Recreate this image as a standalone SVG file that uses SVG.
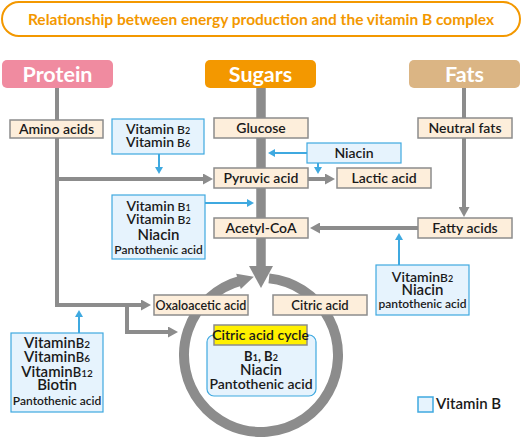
<svg xmlns="http://www.w3.org/2000/svg" width="522" height="439" viewBox="0 0 522 439">
<style>
.box{fill:#fdeedb;stroke:#8c8c8c;stroke-width:1.5}
.vit{fill:#e6f3fd;stroke:#3fa9e0;stroke-width:1.2}
.hd{font-family:Lato,"Noto Sans",sans-serif;font-size:21.5px;font-weight:bold;fill:#fff;text-anchor:middle}
.t{font-family:Lato,"Noto Sans",sans-serif;font-size:14px;font-weight:600;fill:#1a1a1a;text-anchor:middle}
.s{font-size:12px}
.b12{font-size:12px}
.d{font-size:9px}
.g{stroke:#8c8c8c;stroke-width:4;fill:none}
.bl{stroke:#3fa9e0;stroke-width:2;fill:none}
</style>
<defs>
<marker id="ga" markerUnits="userSpaceOnUse" markerWidth="10" markerHeight="11" refX="1" refY="5.5" orient="auto"><path d="M0,0L10,5.5L0,11z" fill="#8c8c8c"/></marker>
<marker id="ba" markerUnits="userSpaceOnUse" markerWidth="7" markerHeight="8" refX="1" refY="4" orient="auto"><path d="M0,0L7,4L0,8z" fill="#3fa9e0"/></marker>
</defs>

<g id="title">
<rect x="2" y="2" width="518" height="34" rx="17" fill="#fff" stroke="#f39800" stroke-width="2"/>
<text x="261" y="25" class="t" style="font-weight:bold;font-size:15.5px;fill:#f39800">Relationship between energy production and the vitamin B complex</text>
</g>

<g id="connectors">
<path class="g" d="M57,88V305H142" marker-end="url(#ga)"/>
<path class="g" d="M57,179H204" marker-end="url(#ga)"/>
<path class="g" d="M127,305V332H169" marker-end="url(#ga)"/>
<path class="g" d="M464,88V208" marker-end="url(#ga)"/>
<path class="g" d="M308,179H326" marker-end="url(#ga)"/>
<path class="g" d="M418,228H319" marker-end="url(#ga)"/>
<path d="M261,88V268" stroke="#8c8c8c" stroke-width="9.5" fill="none"/>
<polygon points="249,266 273,266 261,288" fill="#8c8c8c"/>
<path d="M269,278.4A77,77 0 1,1 241.1,280.6" stroke="#8c8c8c" stroke-width="10" fill="none"/>
<polygon points="236.2,273.8 240.8,289 253.8,276.7" fill="#8c8c8c"/>
<path class="bl" d="M159,154V168" marker-end="url(#ba)"/>
<path class="bl" d="M205,203H248" marker-end="url(#ba)"/>
<path class="bl" d="M307,153H274" marker-end="url(#ba)"/>
<path class="bl" d="M318,163V168" marker-end="url(#ba)"/>
<path class="bl" d="M399,265V239" marker-end="url(#ba)"/>
<path class="bl" d="M79,333V316" marker-end="url(#ba)"/>
</g>

<g id="protein"><rect x="2" y="60" width="111" height="28" rx="5" fill="#f08ba0"/><text x="57.5" y="82" class="hd">Protein</text></g>
<g id="sugars"><rect x="205" y="60" width="111" height="28" rx="5" fill="#f39800"/><text x="260.5" y="82" class="hd">Sugars</text></g>
<g id="fats"><rect x="409" y="60" width="111" height="28" rx="5" fill="#dbb584"/><text x="464.5" y="82" class="hd">Fats</text></g>

<g id="amino"><rect class="box" x="10" y="120" width="93" height="18"/><text x="56.5" y="134" class="t">Amino acids</text></g>
<g id="glucose"><rect class="box" x="214" y="118" width="94" height="20"/><text x="261" y="133" class="t">Glucose</text></g>
<g id="neutral"><rect class="box" x="418" y="118" width="94" height="20"/><text x="465" y="133" class="t">Neutral fats</text></g>
<g id="pyruvic"><rect class="box" x="214" y="168" width="94" height="20"/><text x="261" y="183" class="t">Pyruvic acid</text></g>
<g id="lactic"><rect class="box" x="337" y="168" width="94" height="20"/><text x="384" y="183" class="t">Lactic acid</text></g>
<g id="acetyl"><rect class="box" x="214" y="218" width="94" height="20"/><text x="261" y="233" class="t">Acetyl-CoA</text></g>
<g id="fatty"><rect class="box" x="418" y="218" width="94" height="20"/><text x="465" y="233" class="t">Fatty acids</text></g>
<g id="oxalo"><rect class="box" x="154" y="295" width="94" height="20"/><text x="201" y="310" class="t" style="font-size:12.5px">Oxaloacetic acid</text></g>
<g id="citric"><rect class="box" x="273" y="295" width="94" height="20"/><text x="320" y="310" class="t" style="font-size:13px">Citric acid</text></g>

<g id="vit1"><rect class="vit" x="112" y="119" width="92" height="35"/>
<text x="158" y="134" class="t">Vitamin<tspan class="b12"> B</tspan><tspan class="d">2</tspan></text>
<text x="158" y="147" class="t">Vitamin<tspan class="b12"> B</tspan><tspan class="d">6</tspan></text></g>

<g id="vit2"><rect class="vit" x="112" y="195" width="93" height="64"/>
<text x="158.5" y="211" class="t">Vitamin<tspan class="b12"> B</tspan><tspan class="d">1</tspan></text>
<text x="158.5" y="224" class="t">Vitamin<tspan class="b12"> B</tspan><tspan class="d">2</tspan></text>
<text x="158.5" y="240" class="t" style="font-size:15px">Niacin</text>
<text x="158.5" y="254" class="t s">Pantothenic acid</text></g>

<g id="niacin"><rect class="vit" x="307" y="143" width="94" height="20"/><text x="354" y="158" class="t">Niacin</text></g>

<g id="vit3"><rect class="vit" x="376" y="265" width="93" height="50"/>
<text x="422.5" y="282" class="t">Vitamin<tspan class="b12">B</tspan><tspan class="d">2</tspan></text>
<text x="422.5" y="295" class="t" style="font-size:15px">Niacin</text>
<text x="422.5" y="308" class="t s">pantothenic acid</text></g>

<g id="vit4"><rect class="vit" x="11" y="333" width="92" height="79"/>
<text x="57" y="348" class="t" style="font-size:15px">Vitamin<tspan style="font-size:13px">B</tspan><tspan style="font-size:10px">2</tspan></text>
<text x="57" y="362" class="t" style="font-size:15px">Vitamin<tspan style="font-size:13px">B</tspan><tspan style="font-size:10px">6</tspan></text>
<text x="57" y="377" class="t" style="font-size:15px">Vitamin<tspan style="font-size:13px">B</tspan><tspan style="font-size:10px">12</tspan></text>
<text x="57" y="390" class="t" style="font-size:15px">Biotin</text>
<text x="57" y="405" class="t s">Pantothenic acid</text></g>

<g id="cycle"><rect class="vit" x="207" y="335" width="109" height="61" rx="7"/>
<rect x="214" y="325" width="93" height="20" fill="#fff000" stroke="#8c8c8c" stroke-width="1.5"/>
<text x="260.5" y="340" class="t">Citric acid cycle</text>
<text x="261" y="361" class="t" style="font-weight:bold;font-size:13px">B<tspan class="d">1</tspan>,  B<tspan class="d">2</tspan></text>
<text x="261" y="375" class="t" style="font-size:15px">Niacin</text>
<text x="261" y="389" class="t">Pantothenic acid</text></g>

<g id="legend"><rect x="418" y="397" width="15" height="15" fill="#e6f3fd" stroke="#3fa9e0" stroke-width="1.5"/><text x="436" y="409" class="t" style="text-anchor:start;font-size:15px">Vitamin B</text></g>
</svg>
